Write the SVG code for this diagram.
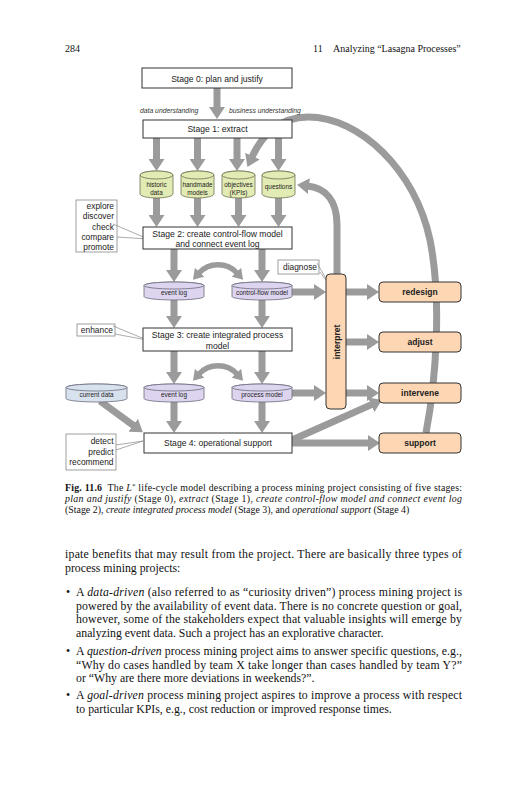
<svg xmlns="http://www.w3.org/2000/svg" width="527" height="800" viewBox="0 0 527 800">
<defs>
<style>
.serif{font-family:"Liberation Serif","Times New Roman",serif;fill:#111}
.hd{font-size:10px}
.cap{font-size:9.9px}
.body{font-size:11.8px}
.sans{font-family:"Liberation Sans",Arial,sans-serif;fill:#222}
.stage rect{fill:#fff;stroke:#333;stroke-width:1}
.st{font-size:8.6px;text-anchor:middle}
.it{font-style:italic}
.lbl{font-size:6.8px;font-style:italic;fill:#333}
.arrow{stroke:#9b9b9b;stroke-width:7;fill:none;marker-end:url(#ah)}
.darrow{stroke:#9b9b9b;stroke-width:5.5;fill:none;marker-end:url(#ah2);marker-start:url(#ah2)}
.arc{stroke:#9b9b9b;stroke-width:7;fill:none}
.note rect{fill:#fff;stroke:#888;stroke-width:0.8}
.nt{font-size:8.4px;text-anchor:end}
.leader{stroke:#888;stroke-width:0.7;fill:none}
.cg{fill:#e2ebb4;stroke:#6e6e50;stroke-width:0.8}
.cp{fill:#ddd4ef;stroke:#6a6a7a;stroke-width:0.8}
.cb{fill:#d8e2ef;stroke:#6a6a7a;stroke-width:0.8}
.ct{font-size:6.4px;text-anchor:middle}
.ct2{font-size:6.4px;text-anchor:middle}
.act rect{fill:#fdd6b3;stroke:#333;stroke-width:1}
.at{font-size:8.5px;font-weight:bold;text-anchor:middle}
</style>
<marker id="ah" markerUnits="userSpaceOnUse" markerWidth="12" markerHeight="16" viewBox="0 0 12 16" refX="1" refY="8" orient="auto-start-reverse"><path d="M0,0 L12,8 L0,16 z" fill="#9b9b9b"/></marker>
<marker id="ah2" markerUnits="userSpaceOnUse" markerWidth="10" markerHeight="13" viewBox="0 0 10 13" refX="1" refY="6.5" orient="auto-start-reverse"><path d="M0,0 L10,6.5 L0,13 z" fill="#9b9b9b"/></marker>
</defs>
<rect width="527" height="800" fill="#fff"/>

<g id="page-header" class="serif hd">
<text x="65" y="52">284</text>
<text x="313" y="52">11</text>
<text x="333" y="52">Analyzing “Lasagna Processes”</text>
</g>

<g id="connectors">
<path class="arc" d="M426,433 C436,380 442,300 430,240 C415,170 360,117 308,117 C280,117 262,135 252,157" marker-end="url(#ah)"/>
<path class="arc" d="M337,276 L337,225 C337,200 325,188 308,186" marker-end="url(#ah)"/>
<line class="arrow" x1="217" y1="88" x2="217" y2="108"/>
<line class="arrow" x1="156.5" y1="138" x2="156.5" y2="160"/>
<line class="arrow" x1="197.5" y1="138" x2="197.5" y2="160"/>
<line class="arrow" x1="237" y1="138" x2="237" y2="160"/>
<line class="arrow" x1="278.5" y1="138" x2="278.5" y2="160"/>
<line class="arrow" x1="156.5" y1="198" x2="156.5" y2="216"/>
<line class="arrow" x1="197.5" y1="198" x2="197.5" y2="216"/>
<line class="arrow" x1="238.5" y1="198" x2="238.5" y2="216"/>
<line class="arrow" x1="278.5" y1="198" x2="278.5" y2="216"/>
<line class="arrow" x1="174" y1="249" x2="174" y2="271"/>
<line class="arrow" x1="262" y1="249" x2="262" y2="271"/>
<path class="darrow" d="M199,273 C209,262 227,262 237,273"/>
<line class="arrow" x1="174" y1="300" x2="174" y2="317"/>
<line class="arrow" x1="262" y1="300" x2="262" y2="317"/>
<line class="arrow" x1="174" y1="351" x2="174" y2="373"/>
<line class="arrow" x1="262" y1="351" x2="262" y2="373"/>
<path class="darrow" d="M199,374 C209,363 227,363 237,374"/>
<line class="arrow" x1="174" y1="402" x2="174" y2="422"/>
<line class="arrow" x1="262" y1="402" x2="262" y2="422"/>
<line class="arrow" x1="100" y1="401" x2="134" y2="425.8"/>
<line class="arrow" x1="292" y1="292" x2="315" y2="292"/>
<line class="arrow" x1="292" y1="393" x2="315" y2="393"/>
<line class="arrow" x1="346" y1="292" x2="368" y2="292"/>
<line class="arrow" x1="346" y1="342" x2="368" y2="342"/>
<line class="arrow" x1="346" y1="393" x2="368" y2="393"/>
<line class="arrow" x1="292" y1="440" x2="372" y2="404.4"/>
<line class="arrow" x1="292" y1="443" x2="369" y2="443"/>
</g>

<g id="n-stage0" class="stage sans"><rect x="142" y="68" width="150" height="20"/><text class="st" x="217" y="82">Stage 0: plan and justify</text></g>
<g id="lbl-understanding" class="sans">
<text class="lbl" x="140" y="113">data understanding</text>
<text class="lbl" x="229" y="113">business understanding</text>
</g>
<g id="n-stage1" class="stage sans"><rect x="143" y="120" width="149" height="18"/><text class="st" x="217.5" y="132">Stage 1: extract</text></g>

<g id="n-historic" class="sans"><path class="cg" d="M140,175 V194 A16.5,4 0 0 0 173,194 V175 A16.5,4 0 0 0 140,175 Z"/><ellipse class="cg" cx="156.5" cy="175" rx="16.5" ry="4"/><text class="ct" x="156.5" y="187">historic</text><text class="ct" x="156.5" y="195">data</text></g>
<g id="n-handmade" class="sans"><path class="cg" d="M181,175 V194 A16.5,4 0 0 0 214,194 V175 A16.5,4 0 0 0 181,175 Z"/><ellipse class="cg" cx="197.5" cy="175" rx="16.5" ry="4"/><text class="ct" x="197.5" y="187">handmade</text><text class="ct" x="197.5" y="195">models</text></g>
<g id="n-objectives" class="sans"><path class="cg" d="M222,175 V194 A16.5,4 0 0 0 255,194 V175 A16.5,4 0 0 0 222,175 Z"/><ellipse class="cg" cx="238.5" cy="175" rx="16.5" ry="4"/><text class="ct" x="238.5" y="187">objectives</text><text class="ct" x="238.5" y="195">(KPIs)</text></g>
<g id="n-questions" class="sans"><path class="cg" d="M262,175 V194 A16.5,4 0 0 0 295,194 V175 A16.5,4 0 0 0 262,175 Z"/><ellipse class="cg" cx="278.5" cy="175" rx="16.5" ry="4"/><text class="ct" x="278.5" y="189">questions</text></g>

<g id="n-explore" class="note sans"><rect x="76" y="200" width="41" height="52"/><path class="leader" d="M113,224 L148,239 L117,237"/><text class="nt" x="114" y="209">explore</text><text class="nt" x="114" y="219.3">discover</text><text class="nt" x="114" y="229.6">check</text><text class="nt" x="114" y="239.9">compare</text><text class="nt" x="114" y="250">promote</text></g>
<g id="n-stage2" class="stage sans"><rect x="143" y="227" width="149" height="22"/><text class="st" x="217.5" y="237">Stage 2: create control-flow model</text><text class="st" x="217.5" y="247">and connect event log</text></g>

<g id="n-eventlog1" class="sans"><path class="cp" d="M144,285.5 V296.5 A30,3.5 0 0 0 204,296.5 V285.5 A30,3.5 0 0 0 144,285.5 Z"/><ellipse class="cp" cx="174" cy="285.5" rx="30" ry="3.5"/><text class="ct2" x="174" y="295">event log</text></g>
<g id="n-cfmodel" class="sans"><path class="cp" d="M232,285.5 V296.5 A30,3.5 0 0 0 292,296.5 V285.5 A30,3.5 0 0 0 232,285.5 Z"/><ellipse class="cp" cx="262" cy="285.5" rx="30" ry="3.5"/><text class="ct2" x="262" y="295">control-flow model</text></g>

<g id="n-diagnose" class="note sans"><rect x="278" y="260" width="41" height="14"/><path class="leader" d="M317,263 L331,287 L320,272"/><text class="nt" x="317" y="270">diagnose</text></g>

<g id="n-enhance" class="note sans"><rect x="77" y="324" width="38" height="12"/><path class="leader" d="M113,326 L147,340 L115,334"/><text class="nt" x="113" y="333">enhance</text></g>
<g id="n-stage3" class="stage sans"><rect x="143" y="328" width="149" height="23"/><text class="st" x="217.5" y="338.3">Stage 3: create integrated process</text><text class="st" x="217.5" y="348.7">model</text></g>

<g id="n-currentdata" class="sans"><path class="cb" d="M66,387.5 V398.5 A30.5,3.5 0 0 0 127,398.5 V387.5 A30.5,3.5 0 0 0 66,387.5 Z"/><ellipse class="cb" cx="96.5" cy="387.5" rx="30.5" ry="3.5"/><text class="ct2" x="96.5" y="397">current data</text></g>
<g id="n-eventlog2" class="sans"><path class="cp" d="M144,387.5 V398.5 A30,3.5 0 0 0 204,398.5 V387.5 A30,3.5 0 0 0 144,387.5 Z"/><ellipse class="cp" cx="174" cy="387.5" rx="30" ry="3.5"/><text class="ct2" x="174" y="397">event log</text></g>
<g id="n-processmodel" class="sans"><path class="cp" d="M232,387.5 V398.5 A30,3.5 0 0 0 292,398.5 V387.5 A30,3.5 0 0 0 232,387.5 Z"/><ellipse class="cp" cx="262" cy="387.5" rx="30" ry="3.5"/><text class="ct2" x="262" y="397">process model</text></g>

<g id="n-detect" class="note sans"><rect x="66" y="434" width="50" height="36"/><path class="leader" d="M116,445 L143,441 L116,450"/><text class="nt" x="113.5" y="444">detect</text><text class="nt" x="113.5" y="454.5">predict</text><text class="nt" x="113.5" y="465">recommend</text></g>
<g id="n-stage4" class="stage sans"><rect x="144" y="433" width="148" height="20"/><text class="st" x="218" y="446">Stage 4: operational support</text></g>

<g id="n-interpret" class="act sans"><rect x="326" y="274" width="20" height="135" rx="4"/><text class="at" transform="translate(339.5,342) rotate(-90)">interpret</text></g>
<g id="n-redesign" class="act sans"><rect x="379" y="282" width="82" height="20" rx="4"/><text class="at" x="420" y="295">redesign</text></g>
<g id="n-adjust" class="act sans"><rect x="379" y="332" width="82" height="20" rx="4"/><text class="at" x="420" y="345">adjust</text></g>
<g id="n-intervene" class="act sans"><rect x="379" y="383" width="82" height="20" rx="4"/><text class="at" x="420" y="396">intervene</text></g>
<g id="n-support" class="act sans"><rect x="379" y="433" width="82" height="20" rx="4"/><text class="at" x="420" y="446">support</text></g>

<g id="caption" class="serif cap">
<text x="65" y="491" textLength="397" lengthAdjust="spacing"><tspan font-weight="bold">Fig. 11.6</tspan>&#160;&#160;The <tspan class="it">L</tspan><tspan dy="-3.5" font-size="7">*</tspan><tspan dy="3.5"> life-cycle model describing a process mining project consisting of five stages:</tspan></text>
<text x="65" y="502" textLength="397" lengthAdjust="spacing"><tspan class="it">plan and justify</tspan> (Stage 0), <tspan class="it">extract</tspan> (Stage 1), <tspan class="it">create control-flow model and connect event log</tspan></text>
<text x="65" y="513"><tspan>(Stage 2), </tspan><tspan class="it">create integrated process model</tspan><tspan> (Stage 3), and </tspan><tspan class="it">operational support</tspan><tspan> (Stage 4)</tspan></text>
</g>

<g id="body" class="serif body">
<text x="65" y="557.5" textLength="397" lengthAdjust="spacing">ipate benefits that may result from the project. There are basically three types of</text>
<text x="65" y="571.5">process mining projects:</text>
<text x="66" y="596">•</text>
<text x="76" y="596" textLength="386" lengthAdjust="spacing">A <tspan class="it">data-driven</tspan> (also referred to as “curiosity driven”) process mining project is</text>
<text x="76" y="609.5" textLength="386" lengthAdjust="spacing">powered by the availability of event data. There is no concrete question or goal,</text>
<text x="76" y="623" textLength="386" lengthAdjust="spacing">however, some of the stakeholders expect that valuable insights will emerge by</text>
<text x="76" y="636.5">analyzing event data. Such a project has an explorative character.</text>
<text x="66" y="655">•</text>
<text x="76" y="655" textLength="386" lengthAdjust="spacing">A <tspan class="it">question-driven</tspan> process mining project aims to answer specific questions, e.g.,</text>
<text x="76" y="668.5" textLength="386" lengthAdjust="spacing">“Why do cases handled by team X take longer than cases handled by team Y?”</text>
<text x="76" y="682">or “Why are there more deviations in weekends?”.</text>
<text x="66" y="699">•</text>
<text x="76" y="699" textLength="386" lengthAdjust="spacing">A <tspan class="it">goal-driven</tspan> process mining project aspires to improve a process with respect</text>
<text x="76" y="712.5">to particular KPIs, e.g., cost reduction or improved response times.</text>
</g>
</svg>
